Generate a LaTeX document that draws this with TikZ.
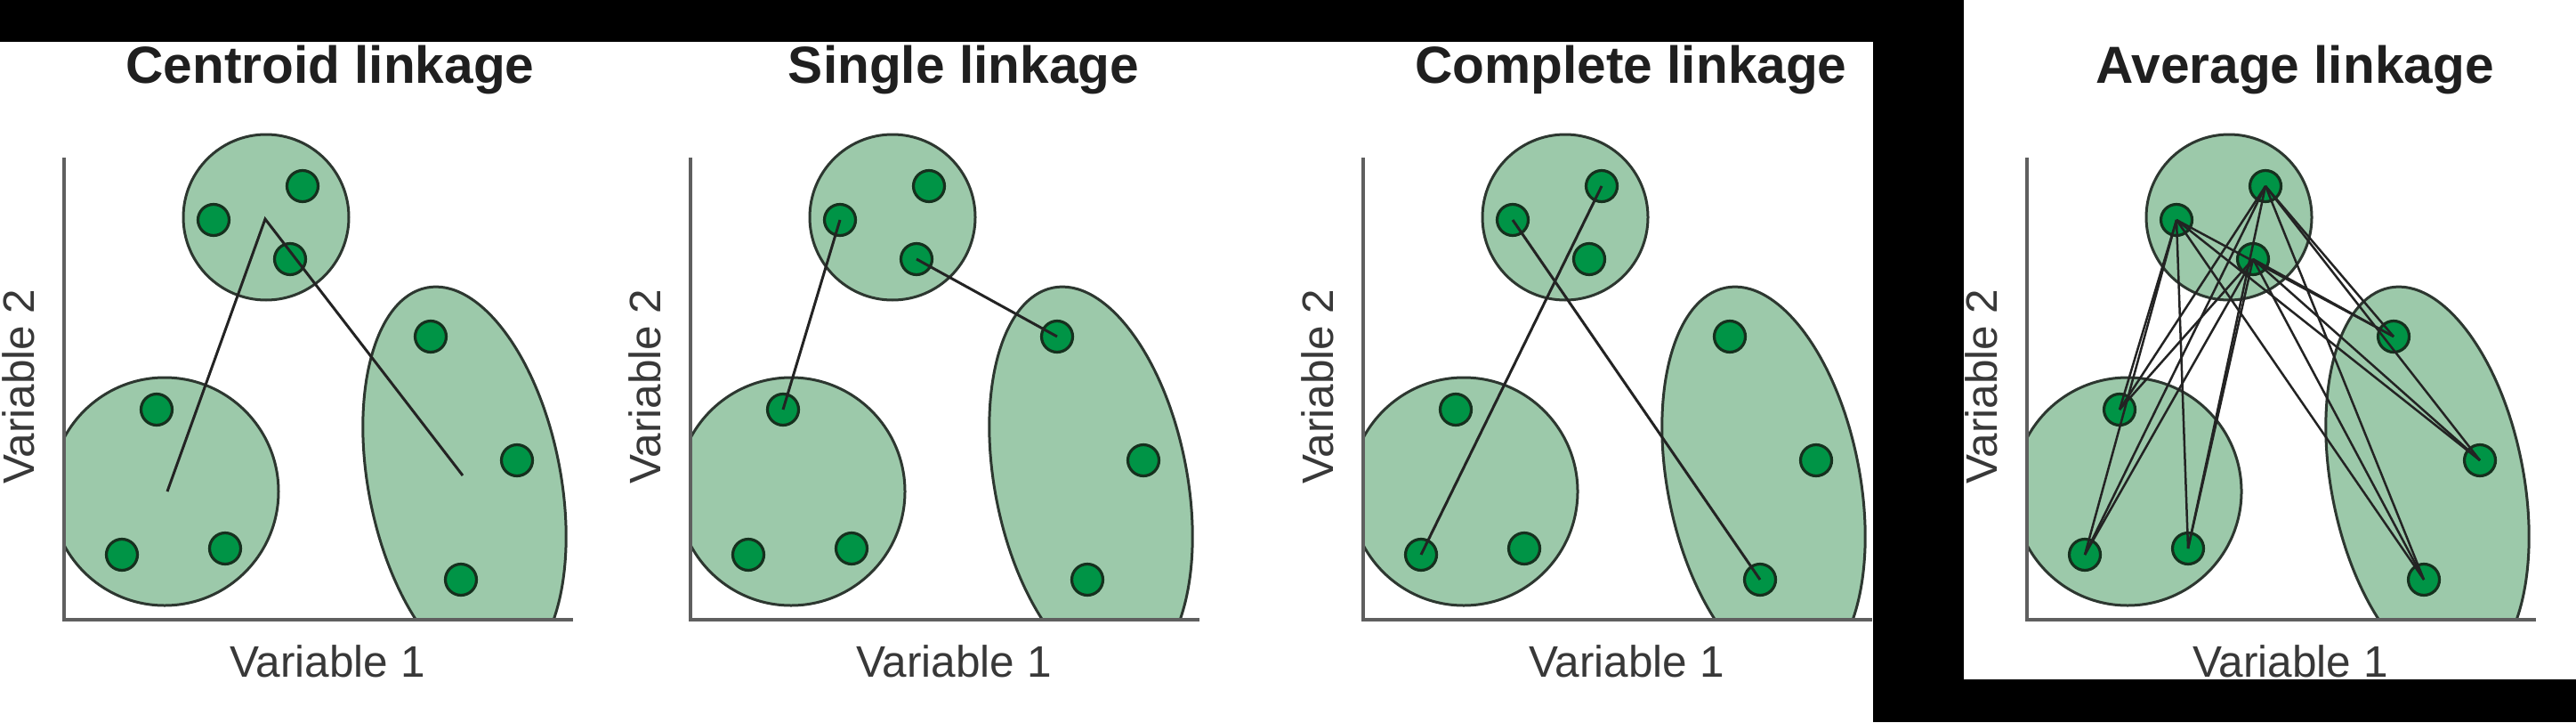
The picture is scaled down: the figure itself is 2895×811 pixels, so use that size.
\documentclass[tikz,border=0pt]{standalone}
\usepackage{fontspec}
\setmainfont{Liberation Sans}
\definecolor{clusterfill}{RGB}{156,201,170}
\definecolor{clusterline}{RGB}{45,55,48}
\definecolor{dotfill}{RGB}{0,148,70}
\definecolor{dotline}{RGB}{22,48,30}
\definecolor{axisgray}{RGB}{95,95,95}
\definecolor{linkline}{RGB}{35,35,35}
\tikzset{
  cluster/.style={fill=clusterfill, draw=clusterline, line width=3pt},
  dotnode/.style={circle, minimum size=35pt, inner sep=0pt, fill=dotfill, draw=dotline, line width=3.2pt},
  axisline/.style={draw=axisgray, line width=3.5pt},
  link/.style={draw=linkline, line width=3pt},
  avglink/.style={draw=linkline, line width=2.5pt},
  paneltitle/.style={font=\fontsize{58.6pt}{60pt}\selectfont\bfseries, text=black!88, anchor=base, inner sep=0pt},
  axislabel/.style={font=\fontsize{49.5pt}{50pt}\selectfont, text=black!78, anchor=base, inner sep=0pt},
}
% #1 prefix, #2 horizontal shift
\newcommand\clusterpanel[2]{%
  \begin{scope}[shift={(#2,0)}]
    \begin{scope}
      \clip (72,0) rectangle (700,696);
      \path[cluster] (299,244) circle[radius=93];
      \path[cluster] (185,552) circle[radius=128];
      \path[cluster, rotate around={-79:(522,541)}] (522,541) ellipse[x radius=222, y radius=108];
    \end{scope}
    \coordinate (#1ytop) at (72,177);
    \coordinate (#1orig) at (72,696);
    \coordinate (#1xend) at (644,696);
    \draw[axisline] (#1ytop) -- (#1orig) -- (#1xend);
    \node[dotnode] (#1t1) at (240,247) {};
    \node[dotnode] (#1t2) at (340,209) {};
    \node[dotnode] (#1t3) at (326,291) {};
    \node[dotnode] (#1b1) at (176,460) {};
    \node[dotnode] (#1b2) at (137,623) {};
    \node[dotnode] (#1b3) at (253,616) {};
    \node[dotnode] (#1r1) at (484,378) {};
    \node[dotnode] (#1r2) at (581,517) {};
    \node[dotnode] (#1r3) at (518,651) {};
    \coordinate (#1tc) at (298,246);
    \coordinate (#1bc) at (188,552);
    \coordinate (#1rc) at (520,534);
    \node[axislabel] (#1xlab) at (368,760) {Variable 1};
    \node[axislabel, rotate=90] (#1ylab) at (38,434) {Variable 2};
  \end{scope}}

\begin{document}
\begin{tikzpicture}[x=1pt, y=-1pt]
  \useasboundingbox (0,0) rectangle (2895,811);
  \fill[white] (0,0) rectangle (2895,811);

  % Panel 1: centroid linkage
  \clusterpanel{A}{0}
  \node[paneltitle] (Atitle) at (371,93) {Centroid linkage};
  \draw[link] (Abc) -- (Atc) -- (Arc);

  % Panel 2: single linkage
  \clusterpanel{B}{704}
  \node[paneltitle] (Btitle) at (1083,93) {Single linkage};
  \draw[link] (Bt1.center) -- (Bb1.center);
  \draw[link] (Bt3.center) -- (Br1.center);

  % Panel 3: complete linkage
  \clusterpanel{C}{1460}
  \node[paneltitle] (Ctitle) at (1833,93) {Complete linkage};
  \draw[link] (Ct1.center) -- (Cr3.center);
  \draw[link] (Ct2.center) -- (Cb2.center);

  % Panel 4: average linkage
  \clusterpanel{D}{2206}
  \node[paneltitle] (Dtitle) at (2579,93) {Average linkage};
  \foreach \i in {t1,t2,t3}{
    \foreach \j in {b1,b2,b3,r1,r2,r3}{
      \draw[avglink] (D\i.center) -- (D\j.center);
    }
  }

  % black framing
  \fill[black] (0,0) rectangle (2105,47);
  \fill[black] (2105,0) rectangle (2207,811);
  \fill[black] (2207,763) rectangle (2895,811);
\end{tikzpicture}
\end{document}
